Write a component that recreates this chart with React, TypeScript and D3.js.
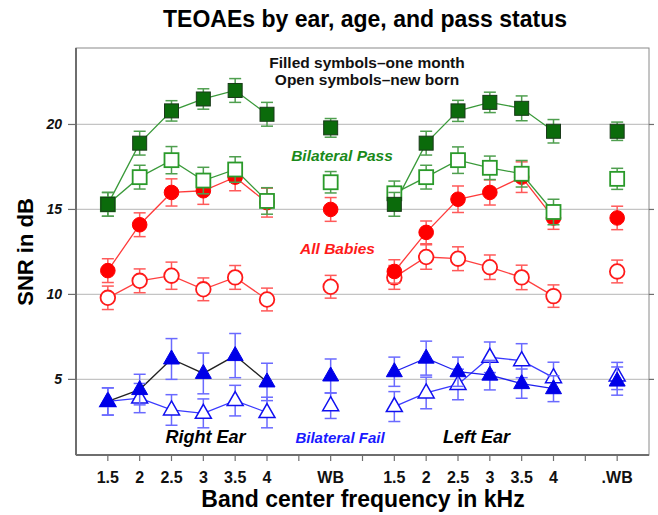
import React from "react";
import * as d3 from "d3";

const xLabels = ["1.5", "2", "2.5", "3", "3.5", "4", "", "WB", "", "1.5", "2", "2.5", "3", "3.5", "4", "", ".WB"];
// order of each series: right 1.5..4, right WB, left 1.5..4, left WB
const positions = [0, 1, 2, 3, 4, 5, 7, 9, 10, 11, 12, 13, 14, 16];
const yTicks = [5, 10, 15, 20];

const passMonth = [15.3, 18.9, 20.8, 21.5, 22.0, 20.6, 19.8, 15.3, 18.9, 20.8, 21.3, 20.95, 19.6, 19.6];
const passMonthErr = [0.7, 0.7, 0.6, 0.6, 0.7, 0.7, 0.55, 0.7, 0.7, 0.62, 0.6, 0.73, 0.69, 0.54];
const passNewborn = [15.3, 16.9, 17.9, 16.7, 17.35, 15.5, 16.6, 15.95, 16.9, 17.9, 17.45, 17.1, 14.85, 16.8];
const passNewbornErr = [0.7, 0.7, 0.8, 0.78, 0.75, 0.78, 0.63, 0.72, 0.7, 0.78, 0.69, 0.78, 0.75, 0.62];
const allMonth = [11.4, 14.1, 16.0, 16.1, 16.9, 15.4, 15.0, 11.35, 13.65, 15.6, 16.0, 16.9, 14.5, 14.5];
const allMonthErr = [0.7, 0.7, 0.8, 0.8, 0.8, 0.85, 0.7, 0.69, 0.67, 0.78, 0.74, 0.9, 0.67, 0.69];
const allNewborn = [9.8, 10.8, 11.1, 10.3, 11.0, 9.7, 10.45, 11.0, 12.2, 12.1, 11.6, 11.0, 9.9, 11.35];
const allNewbornErr = [0.69, 0.7, 0.8, 0.67, 0.7, 0.67, 0.67, 0.7, 0.72, 0.7, 0.72, 0.72, 0.66, 0.67];
const failMonth = [3.7, 4.4, 6.2, 5.35, 6.4, 4.85, 5.2, 5.45, 6.25, 5.45, 5.25, 4.75, 4.45, 4.9];
const failMonthErr = [0.8, 0.9, 1.2, 1.2, 1.3, 1.1, 1.0, 0.86, 1.0, 0.86, 0.87, 0.86, 0.76, 0.83];
const failNewborn = [3.7, 3.9, 3.2, 3.0, 3.75, 3.05, 3.45, 3.4, 4.2, 4.7, 6.3, 6.1, 5.1, 5.2];
const failNewbornErr = [0.8, 0.86, 0.9, 0.85, 0.9, 0.9, 0.75, 0.88, 0.93, 0.9, 0.9, 1.0, 0.91, 0.8];

type Shape = "square" | "circle" | "triangle";
interface Series {
  key: string;
  values: number[];
  errs: number[];
  shape: Shape;
  filled: boolean;
  color: string;
  errColor: string;
  lineRight: string;
  lineLeft: string;
}

const series: Series[] = [
  { key: "failNew", values: failNewborn, errs: failNewbornErr, shape: "triangle", filled: false, color: "#1010f0", errColor: "#6a6aff", lineRight: "#3a3aff", lineLeft: "#3a3aff" },
  { key: "failMonth", values: failMonth, errs: failMonthErr, shape: "triangle", filled: true, color: "#0000e8", errColor: "#6a6aff", lineRight: "#222", lineLeft: "#2020ee" },
  { key: "allNew", values: allNewborn, errs: allNewbornErr, shape: "circle", filled: false, color: "#ff1a1a", errColor: "#ff5a5a", lineRight: "#ff4040", lineLeft: "#ff4040" },
  { key: "allMonth", values: allMonth, errs: allMonthErr, shape: "circle", filled: true, color: "#ff0000", errColor: "#ff5a5a", lineRight: "#ff3a3a", lineLeft: "#ff3a3a" },
  { key: "passNew", values: passNewborn, errs: passNewbornErr, shape: "square", filled: false, color: "#2a9a2a", errColor: "#4f9f4f", lineRight: "#3a9a3a", lineLeft: "#3a9a3a" },
  { key: "passMonth", values: passMonth, errs: passMonthErr, shape: "square", filled: true, color: "#0b6b0b", errColor: "#4f9f4f", lineRight: "#3a9a3a", lineLeft: "#3a9a3a" },
];

const W = 658;
const H = 515;
const left = 76;
const right = 649;
const top = 48;
const bottom = 455;

const font = "'Liberation Sans', Arial, sans-serif";

export default function App() {
  const x = d3.scaleLinear().domain([-1, 17]).range([left, right]);
  const y = d3.scaleLinear().domain([0.55, 24.5]).range([bottom, top]);
  const line = d3
    .line<[number, number]>()
    .x((d) => x(d[0]))
    .y((d) => y(d[1]));

  const marker = (s: Series, cx: number, cy: number, i: number) => {
    const fill = s.filled ? s.color : "#fff";
    const stroke = s.filled ? (s.shape === "square" ? "#1a3a1a" : s.color) : s.color;
    if (s.shape === "square") {
      return <rect key={i} x={cx - 7} y={cy - 7} width={14} height={14} fill={fill} stroke={stroke} strokeWidth={s.filled ? 1 : 1.8} />;
    }
    if (s.shape === "circle") {
      return <circle key={i} cx={cx} cy={cy} r={7.3} fill={fill} stroke={stroke} strokeWidth={s.filled ? 1 : 1.8} />;
    }
    const p = `M${cx},${cy - 9}L${cx + 8},${cy + 5}L${cx - 8},${cy + 5}Z`;
    return <path key={i} d={p} fill={fill} stroke={stroke} strokeWidth={s.filled ? 1 : 1.5} strokeLinejoin="miter" />;
  };

  return (
    <svg width={W} height={H} style={{ display: "block", position: "absolute", left: 0, top: 0, background: "#fff" }}>
      <rect x={0} y={0} width={W} height={H} fill="#fff" />
      <text x={365} y={27} textAnchor="middle" fontFamily={font} fontWeight="bold" fontSize={23} fill="#000">
        TEOAEs by ear, age, and pass status
      </text>

      {/* gridlines */}
      {yTicks.map((t) => (
        <line key={t} x1={left} x2={right} y1={y(t)} y2={y(t)} stroke="#c4c4c4" strokeWidth={1.2} />
      ))}

      {/* frame */}
      <rect x={left} y={top} width={right - left} height={bottom - top} fill="none" stroke="#8a8a8a" strokeWidth={1} />
      <line x1={left} x2={left} y1={top} y2={bottom} stroke="#6e6e6e" strokeWidth={2} />
      <line x1={left} x2={right} y1={bottom} y2={bottom} stroke="#6e6e6e" strokeWidth={2} />

      {/* y ticks */}
      {yTicks.map((t) => (
        <g key={t}>
          <line x1={left - 8} x2={left} y1={y(t)} y2={y(t)} stroke="#6e6e6e" strokeWidth={1.2} />
          <line x1={right} x2={right + 5} y1={y(t)} y2={y(t)} stroke="#6e6e6e" strokeWidth={1.2} />
          <text x={62} y={y(t) + 5} textAnchor="end" fontFamily={font} fontWeight="bold" fontStyle="italic" fontSize={14} fill="#111">
            {t}
          </text>
        </g>
      ))}

      {/* x ticks */}
      {xLabels.map((lab, i) => (
        <g key={i}>
          <line x1={x(i)} x2={x(i)} y1={bottom} y2={bottom + 6} stroke="#6e6e6e" strokeWidth={1.2} />
          <text x={x(i)} y={483} textAnchor="middle" fontFamily={font} fontWeight="bold" fontSize={16} fill="#111">
            {lab}
          </text>
        </g>
      ))}

      <text x={363} y={507} textAnchor="middle" fontFamily={font} fontWeight="bold" fontSize={23} fill="#000">
        Band center frequency in kHz
      </text>
      <text transform={`translate(33,252) rotate(-90)`} textAnchor="middle" fontFamily={font} fontWeight="bold" fontSize={22} fill="#000">
        SNR in dB
      </text>

      {/* annotations */}
      <text x={367} y={68} textAnchor="middle" fontFamily={font} fontWeight="bold" fontSize={15.5} fill="#111">
        Filled symbols–one month
      </text>
      <text x={367} y={85} textAnchor="middle" fontFamily={font} fontWeight="bold" fontSize={15.5} fill="#111">
        Open symbols–new born
      </text>
      <text x={342} y={161} textAnchor="middle" fontFamily={font} fontWeight="bold" fontStyle="italic" fontSize={15.5} fill="#1a8a1a">
        Bilateral Pass
      </text>
      <text x={337.5} y={254} textAnchor="middle" fontFamily={font} fontWeight="bold" fontStyle="italic" fontSize={15.5} fill="#ff1a1a">
        All Babies
      </text>
      <text x={205.5} y={443} textAnchor="middle" fontFamily={font} fontWeight="bold" fontStyle="italic" fontSize={18} fill="#000">
        Right Ear
      </text>
      <text x={340} y={443} textAnchor="middle" fontFamily={font} fontWeight="bold" fontStyle="italic" fontSize={15} fill="#1a1aff">
        Bilateral Fail
      </text>
      <text x={476.5} y={443} textAnchor="middle" fontFamily={font} fontWeight="bold" fontStyle="italic" fontSize={18} fill="#000">
        Left Ear
      </text>

      {/* lines */}
      {series.map((s) => {
        const pts: [number, number][] = positions.map((p, i) => [p, s.values[i]]);
        return (
          <g key={s.key + "-l"}>
            <path d={line(pts.slice(0, 6)) || ""} fill="none" stroke={s.lineRight} strokeWidth={1.3} />
            <path d={line(pts.slice(7, 13)) || ""} fill="none" stroke={s.lineLeft} strokeWidth={1.3} />
          </g>
        );
      })}

      {/* error bars + markers */}
      {series.map((s) => (
        <g key={s.key + "-m"}>
          {positions.map((p, i) => {
            const cx = x(p);
            const y1 = y(s.values[i] + s.errs[i]);
            const y2 = y(s.values[i] - s.errs[i]);
            return (
              <g key={i}>
                <line x1={cx} x2={cx} y1={y1} y2={y2} stroke={s.errColor} strokeWidth={1.5} />
                <line x1={cx - 6} x2={cx + 6} y1={y1} y2={y1} stroke={s.errColor} strokeWidth={1.5} />
                <line x1={cx - 6} x2={cx + 6} y1={y2} y2={y2} stroke={s.errColor} strokeWidth={1.5} />
              </g>
            );
          })}
          {positions.map((p, i) => marker(s, x(p), y(s.values[i]), i))}
        </g>
      ))}
    </svg>
  );
}
